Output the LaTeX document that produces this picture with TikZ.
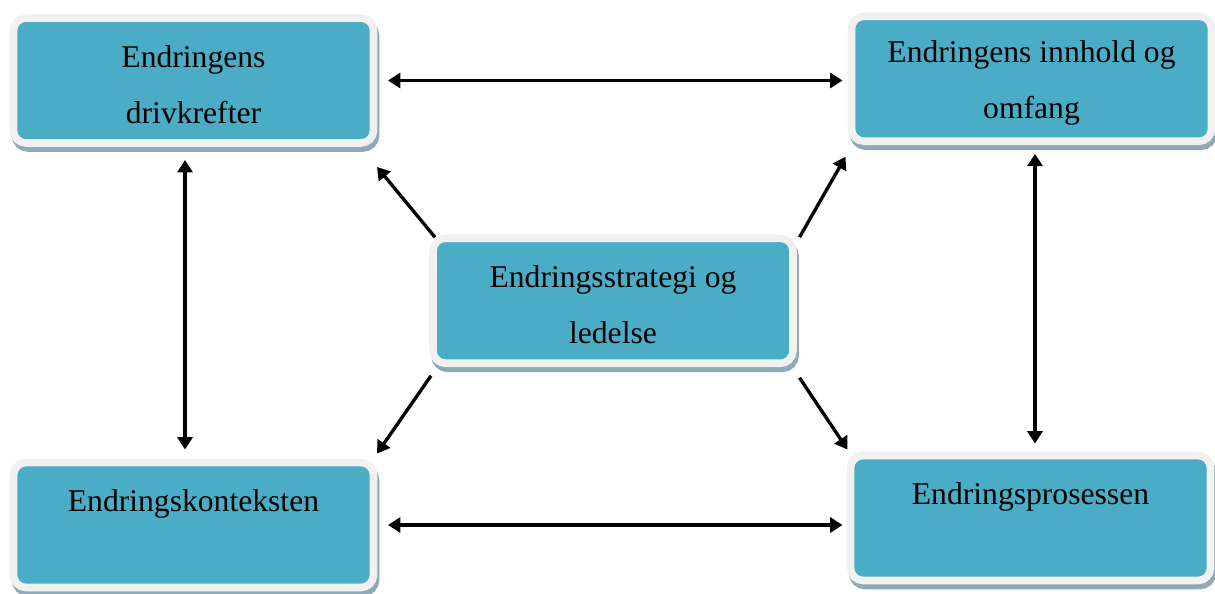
\documentclass[tikz,border=0pt]{standalone}
\usepackage{fontspec}
\setmainfont{Liberation Serif}
\usepackage{xcolor}
\usetikzlibrary{arrows.meta,calc,positioning}

\definecolor{boxblue}{HTML}{4BACC6}
\definecolor{boxrim}{HTML}{F1F1F1}
\definecolor{boxshade}{HTML}{8FAAB6}

% first line sits a little low in the boxes
\newcommand{\lowtop}{\rule{0pt}{17pt}}

\begin{document}
\begin{tikzpicture}[
  >={Triangle[length=7pt,width=8.5pt]},
  box/.style={fill=boxblue, draw=boxrim, line width=4.3pt, rounded corners=0.25cm,
    outer sep=0pt, minimum width=7.2cm, minimum height=2.5cm, align=center,
    font=\fontsize{18}{32}\selectfont,
    preaction={fill=boxshade, draw=boxshade, transform canvas={shift={(0.04cm,-0.1cm)}}}},
  link/.style={<->, line width=1.9pt},
  spoke/.style={->, line width=1.9pt}
]
\useasboundingbox (0,0) rectangle (24.3,-11.86);

\node[box] (tl) at (3.87,-1.61) {\lowtop Endringens\\drivkrefter};
\node[box] (tr) at (20.63,-1.575) {\lowtop Endringens innhold og\\omfang};
\node[box] (mid) at (12.26,-6.015) {\lowtop Endringsstrategi og\\ledelse};
\node[box] (bl) at (3.87,-10.5) {\lowtop Endringskonteksten\\\mbox{}};
\node[box] (br) at (20.61,-10.36) {\lowtop Endringsprosessen\\\mbox{}};

% outer ring
\draw[link] ([xshift=0.29cm]tl.east) -- ([xshift=-0.18cm]tl.east -| tr.west);
\draw[link] ([xshift=0.29cm]bl.east) -- ([xshift=-0.16cm]bl.east -| br.west);
\draw[link] ([shift={(-0.17cm,-0.34cm)}]tl.south) -- ([shift={(-0.17cm,0.26cm)}]bl.north);
\draw[link] ([shift={(0.07cm,-0.25cm)}]tr.south) -- ([shift={(0.07cm,0.24cm)}]tr.south |- br.north);

% from the middle
\draw[spoke] ([shift={(0.04cm,0.02cm)}]mid.north west) -- ([shift={(0.07cm,-0.48cm)}]tl.south east);
\draw[spoke] ([shift={(0.13cm,0.02cm)}]mid.north east) -- ([shift={(-0.12cm,-0.31cm)}]tr.south west);
\draw[spoke] ([shift={(-0.04cm,-0.25cm)}]mid.south west) -- ([shift={(0.07cm,0.18cm)}]bl.north east);
\draw[spoke] ([shift={(0.13cm,-0.29cm)}]mid.south east) -- ([shift={(-0.06cm,0.12cm)}]br.north west);
\end{tikzpicture}
\end{document}
